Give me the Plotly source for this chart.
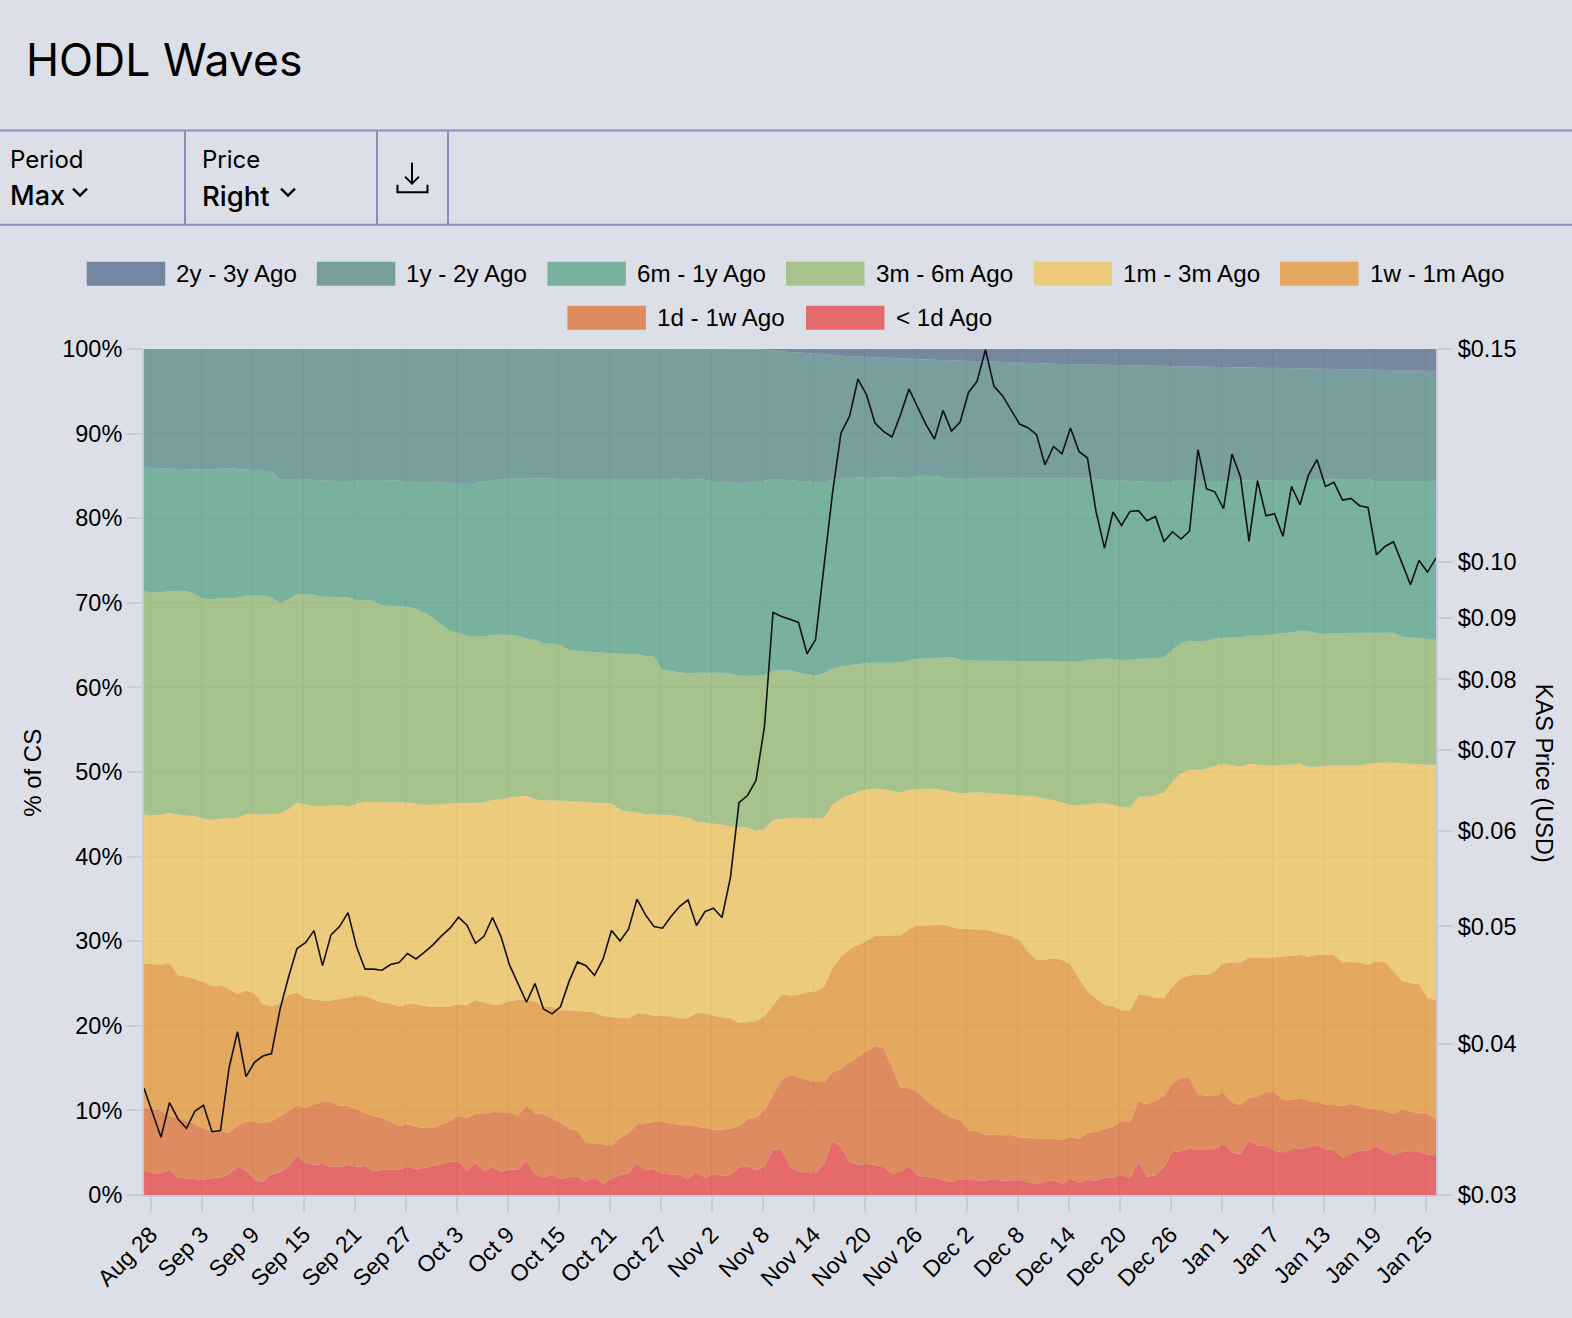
import pandas as pd
import plotly.graph_objects as go

# Plot frame in page pixels (layout only)
L, R, T, B = 144, 1436, 349.3, 1195
W, H = 1572, 1318
BG = (220, 223, 232)
ALPHA = 0.9

tick_labels = ["Aug 28","Sep 3","Sep 9","Sep 15","Sep 21","Sep 27","Oct 3","Oct 9","Oct 15","Oct 21","Oct 27",
               "Nov 2","Nov 8","Nov 14","Nov 20","Nov 26","Dec 2","Dec 8","Dec 14","Dec 20","Dec 26",
               "Jan 1","Jan 7","Jan 13","Jan 19","Jan 25"]
price_ticks = [0.03,0.04,0.05,0.06,0.07,0.08,0.09,0.10,0.15]

# Upper edge of each band, % of circulating supply, one value per day
top_lt1d = [2.84,2.56,2.56,3.00,2.05,1.97,1.85,1.81,2.01,2.09,2.48,3.35,2.96,1.77,1.58,2.48,2.68,3.35,4.73,3.74,
 3.59,3.67,3.31,3.35,3.55,3.35,3.43,2.80,2.96,3.00,3.00,3.35,3.07,3.23,3.47,3.71,3.90,3.98,2.88,3.82,
 2.80,3.27,2.76,3.00,3.00,3.98,2.44,2.09,2.37,1.89,2.13,2.13,
 1.58,2.05,1.30,1.89,2.37,2.52,3.78,2.92,3.11,2.52,2.48,2.37,1.89,2.68,2.05,2.48,2.29,2.37,
 3.27,3.39,2.92,3.35,5.36,5.40,3.35,2.80,2.60,2.56,3.67,6.35,5.68,3.94,3.55,3.67,3.59,3.35,2.44,2.80,
 3.43,2.29,2.17,2.01,1.73,1.54,1.85,1.77,1.69,1.69,1.89,1.69,
 1.73,1.73,1.54,1.30,1.62,1.73,1.30,1.97,1.42,1.81,1.66,2.01,2.09,2.37,2.01,3.94,2.17,2.33,3.27,5.08,
 5.20,5.48,5.36,5.36,5.44,6.03,5.01,4.85,6.42,5.83,5.79,5.24,5.01,5.44,5.48,5.64,5.91,5.40,5.36,4.38,
 4.93,5.20,5.32,5.72,5.08,4.73,5.08,5.20,5.12,4.77,4.81]
top_1d1w = [10.37,10.13,9.93,9.38,9.07,8.79,8.36,7.80,7.61,7.53,7.37,8.20,8.67,8.63,8.55,8.71,9.26,9.89,10.56,10.29,
 10.72,11.00,11.04,10.56,10.52,10.05,9.66,9.34,9.07,8.67,8.16,8.36,8.08,7.92,7.96,8.32,8.75,9.38,9.03,9.66,
 9.58,9.81,9.81,9.74,9.38,10.56,9.66,9.54,9.07,8.55,7.88,7.57,
 6.19,6.11,5.99,5.83,6.74,7.29,8.32,8.47,8.63,8.63,8.47,8.28,8.24,8.12,7.92,7.69,7.80,7.84,
 8.12,8.95,9.14,10.01,11.82,13.60,14.15,13.87,13.56,13.36,13.36,14.51,14.90,15.65,16.28,16.95,17.62,17.38,15.10,12.73,
 12.61,12.22,11.23,10.45,9.66,9.14,8.87,7.65,7.57,7.13,7.17,7.06,
 7.10,6.82,6.74,6.66,6.62,6.66,6.50,6.86,6.66,7.33,7.49,7.84,8.08,8.79,8.59,11.04,10.76,11.15,11.67,13.17,
 13.84,13.87,11.86,11.75,11.71,12.10,10.96,10.64,11.47,11.63,12.18,12.14,11.23,11.27,11.47,11.08,11.08,10.64,10.64,10.52,
 10.76,10.48,10.29,10.09,9.89,9.62,10.01,9.85,9.74,9.58,8.99]
top_1w1m = [27.32,27.24,27.24,27.36,25.98,25.82,25.54,25.14,24.71,24.79,24.36,23.77,24.16,23.81,22.51,22.35,22.66,23.65,23.93,23.22,
 23.06,22.98,22.98,23.18,23.37,23.53,23.53,23.18,22.74,22.63,22.27,22.55,22.59,22.35,22.23,22.23,22.27,22.55,22.47,23.06,
 22.74,22.47,22.51,22.90,23.06,23.06,22.86,22.27,22.19,21.84,21.84,21.80,
 21.68,21.60,21.17,21.05,20.93,20.89,21.40,21.40,21.21,21.17,21.09,20.89,20.89,21.52,21.48,21.17,21.01,20.89,
 20.30,20.42,20.58,21.09,22.39,23.69,23.57,23.65,23.97,24.04,24.64,26.76,28.18,29.05,29.56,29.96,30.63,30.67,30.67,30.71,
 31.41,31.85,31.85,31.89,31.93,31.69,31.45,31.45,31.41,31.34,31.14,30.78,
 30.63,30.07,28.77,27.75,27.79,27.99,27.79,27.28,25.62,24.04,23.26,22.47,22.35,21.84,21.80,23.69,23.57,23.33,23.30,24.64,
 25.62,25.98,26.01,26.01,26.49,27.36,27.51,27.47,28.06,28.10,27.99,28.10,28.22,28.26,28.38,28.14,28.42,28.38,28.38,27.51,
 27.55,27.47,27.20,27.63,27.51,26.45,25.31,25.07,24.95,23.30,23.02]
top_1m3m = [44.94,44.86,44.94,45.17,44.94,44.86,44.78,44.50,44.34,44.46,44.50,44.58,45.05,45.05,44.94,44.97,45.09,45.61,46.39,46.16,
 45.96,45.96,46.00,46.12,45.92,46.27,46.47,46.47,46.47,46.47,46.47,46.39,46.24,46.12,46.16,46.24,46.31,46.35,46.35,46.35,
 46.39,46.71,46.75,47.02,47.10,47.18,46.79,46.63,46.67,46.59,46.59,46.51,46.47,46.35,46.35,46.35,45.53,45.33,45.25,
 45.01,44.97,44.94,44.90,44.78,44.62,44.11,44.03,43.95,43.79,43.56,43.52,43.48,43.04,43.28,44.34,44.50,44.58,44.58,44.58,
 44.50,44.62,46.12,46.83,47.30,47.69,47.97,48.05,47.97,47.77,47.58,47.89,47.97,48.01,48.01,47.81,47.69,47.50,47.54,47.62,
 47.54,47.46,47.38,47.22,47.22,47.18,47.10,46.80,46.70,46.40,46.10,46.10,46.20,46.30,46.30,46.10,45.90,45.80,
 47.06,47.10,47.22,47.62,48.88,49.86,50.26,50.26,50.41,50.73,50.97,50.81,50.65,50.97,50.89,50.77,50.81,50.81,50.89,51.04,
 50.57,50.61,50.73,50.81,50.73,50.73,50.81,50.97,51.08,51.12,51.08,51.01,50.97,50.93,50.85,50.85]
top_3m6m = [71.38,71.19,71.27,71.38,71.42,71.38,71.07,70.48,70.40,70.60,70.52,70.60,70.87,70.87,70.83,70.63,70.00,70.40,71.07,70.99,
 70.95,70.71,70.71,70.71,70.67,70.32,70.24,70.24,69.69,69.65,69.65,69.53,69.26,68.83,68.19,67.40,66.69,66.46,66.10,65.98,
 66.02,66.22,66.22,66.22,66.10,65.79,65.63,65.19,65.16,65.00,64.45,64.29,64.25,64.21,64.17,64.05,63.97,63.97,63.93,
 63.70,63.66,62.08,61.92,61.81,61.65,61.73,61.73,61.73,61.73,61.61,61.37,61.37,61.37,61.49,61.92,62.08,62.00,61.77,61.57,
 61.37,61.69,62.24,62.47,62.63,62.79,62.87,62.91,62.91,62.95,62.95,63.19,63.38,63.42,63.50,63.54,63.58,63.27,63.19,63.15,
 63.15,63.15,63.15,63.11,63.11,63.11,63.07,63.11,63.11,63.07,63.03,63.03,63.26,63.34,63.38,63.38,63.23,63.26,63.38,63.38,
 63.46,63.54,64.45,65.27,65.51,65.43,65.51,65.79,65.87,65.90,65.94,66.10,66.10,66.14,66.30,66.38,66.49,66.69,66.69,66.38,
 66.34,66.42,66.42,66.42,66.46,66.46,66.46,66.46,66.46,65.98,65.94,65.83,65.67,65.63]
top_6m1y = [85.97,85.97,85.93,85.85,85.85,85.81,85.81,85.77,85.73,85.93,85.89,85.85,85.73,85.69,85.61,85.57,
 84.55,84.55,84.67,84.55,84.51,84.47,84.39,84.39,84.39,84.47,84.51,84.51,84.51,84.51,84.47,
 84.31,84.27,84.27,84.27,84.23,84.19,84.16,84.16,84.16,
 84.35,84.47,84.55,84.71,84.74,84.71,84.67,84.63,84.63,84.63,84.63,84.63,84.63,84.63,84.63,84.63,84.55,84.55,84.55,
 84.55,84.55,84.59,84.63,84.67,84.63,84.63,84.55,84.27,84.23,84.19,84.16,84.23,84.27,84.43,84.63,84.55,84.43,84.39,84.39,84.19,84.19,
 84.55,84.67,84.74,84.82,84.86,84.86,84.82,84.78,84.74,84.74,85.02,85.02,84.98,84.74,84.74,84.74,84.74,84.74,84.74,84.74,84.74,84.74,84.74,84.74,
 84.74,84.74,84.74,84.74,84.74,84.71,84.71,84.63,84.51,84.51,84.47,84.39,84.39,
 84.35,84.27,84.19,84.31,84.51,84.43,84.35,84.31,84.27,84.31,84.43,84.47,84.47,84.47,84.47,84.47,84.47,84.51,84.55,84.55,84.55,84.55,
 84.59,84.59,84.63,84.63,84.63,84.31,84.31,84.31,84.31,84.31,84.31,84.31,84.31]
top_1y2y = [100.0]*72 + [99.98,99.9,99.8,99.7,99.65,99.6,99.5,99.42,99.35,99.28,99.2,99.15,99.08,99.05,99.0,98.96,98.92,98.88,98.85,98.8,
 98.77,98.74,98.7,98.66,98.62,98.58,98.54,98.5,98.46,98.42,98.4,98.38,98.35,98.32,98.28,98.26,98.24,98.22,98.2,98.17,
 98.14,98.12,98.1,98.08,98.06,98.04,98.02,98.0,97.98,97.97,97.95,97.94,97.92,97.91,97.9,97.88,97.87,97.85,97.84,97.82,
 97.8,97.76,97.72,97.7,97.68,97.65,97.63,97.6,97.58,97.56,97.54,97.52,97.5,97.49,97.48,97.46,97.45,97.44,97.42,97.41,97.4]
top_2y3y = [100.0]*153

price = [.03675,.03509,.03348,.03576,.03467,.03406,.03520,.03558,.03384,.03391,.03818,.04094,.03758,.03862,.03908,.03926,
 .04271,.04539,.04794,.04849,.04961,.04641,.04921,.04999,.05134,.04812,.04610,.04610,.04601,.04651,.04668,.04749,
 .04701,.04761,.04828,.04911,.04984,.05089,.05012,.04843,.04908,.05086,.04905,.04648,.04488,.04329,.04485,.04274,
 .04234,.04291,.04502,.04674,.04641,.04557,.04698,.04961,.04865,.04974,.05267,.05111,.04999,.04984,.05095,.05193,
 .05260,.05009,.05144,.05177,.05086,.05492,.06329,
 .06415,.06601,.07315,.09088,.09019,.08972,.08917,.08400,.08626,.09918,.11404,.12785,.13195,.14167,.13751,.13030,
 .12824,.12688,.13237,.13901,.13448,.12988,.12640,.13346,.12833,.13045,.13811,.14103,.14980,.13970,.13725,.13364,
 .13005,.12914,.12743,.12036,.12462,.12290,.12907,
 .12344,.12190,.11013,.10271,.11000,.10723,.11013,.11028,.10820,.10908,.10402,.10595,.10449,.10609,.12385,.11499,
 .11426,.11069,.12283,.11758,.10402,.11675,.10922,.10964,.10502,.11549,.11154,.11808,.12151,.11549,.11638,.11254,
 .11289,.11133,.11097,.10141,.10303,.10396,.09982,.09579,.10032,.09813,.10078]

for arr in (top_lt1d, top_1d1w, top_1w1m, top_1m3m, top_3m6m, top_6m1y, top_1y2y, top_2y3y, price):
    assert len(arr) == 153, len(arr)

dates = pd.date_range("2023-08-27 05:00", periods=153, freq="D")
tick_dates = pd.date_range("2023-08-28", periods=len(tick_labels), freq="6D")

# (legend name, upper edge, colour as seen)
bands = [("< 1d Ago", top_lt1d, (228,107,107)),
         ("1d - 1w Ago", top_1d1w, (223,139,96)),
         ("1w - 1m Ago", top_1w1m, (229,168,95)),
         ("1m - 3m Ago", top_1m3m, (236,203,125)),
         ("3m - 6m Ago", top_3m6m, (166,195,141)),
         ("6m - 1y Ago", top_6m1y, (120,177,158)),
         ("1y - 2y Ago", top_1y2y, (120,158,158)),
         ("2y - 3y Ago", top_2y3y, (117,135,160))]

def fill(c):
    r = [max(0, min(255, round((c[k] - (1 - ALPHA) * BG[k]) / ALPHA))) for k in range(3)]
    return f"rgba({r[0]},{r[1]},{r[2]},{ALPHA})"
def solid(c):
    return f"rgb({c[0]},{c[1]},{c[2]})"
def px(x): return (x - L) / (R - L)
def py(y): return (B - y) / (B - T)

fig = go.Figure()
for i, (name, vals, col) in enumerate(bands):
    fig.add_trace(go.Scatter(x=dates, y=vals, name=name, mode="lines", line=dict(width=0),
                             fill="tozeroy" if i == 0 else "tonexty", fillcolor=fill(col), hoverinfo="skip"))
fig.add_trace(go.Scatter(x=dates, y=price, name="KAS Price", mode="lines", yaxis="y2",
                         line=dict(color="#111111", width=1.6), hoverinfo="skip"))

AX = "Liberation Sans"
UI = "Inter"
AXLINE = "#c9ccd8"
RULE = "#8490b4"
GRID = "#949494"
anns, shapes = [], []

def text(x, y, s, size, font=AX, color="black", angle=0, xa="left", weight=None):
    f = dict(family=font, size=size, color=color)
    if weight: f["weight"] = weight
    anns.append(dict(xref="paper", yref="paper", x=px(x), y=py(y), text=s, showarrow=False, font=f,
                     textangle=angle, xanchor=xa, yanchor="middle", borderpad=0, borderwidth=0))
def rule(x0, y0, x1, y1, color=RULE, w=2):
    shapes.append(dict(type="line", xref="paper", yref="paper", x0=px(x0), y0=py(y0), x1=px(x1), y1=py(y1),
                       line=dict(color=color, width=w), layer="above"))
def poly(pts, w=2):
    d = "M " + " L ".join(f"{px(a):.5f} {py(b):.5f}" for a, b in pts)
    shapes.append(dict(type="path", xref="paper", yref="paper", path=d, line=dict(color="black", width=w), layer="above"))

# Header
text(26, 60, "HODL Waves", 44.5, UI)
rule(0, 131, W, 131); rule(0, 225, W, 225)
for vx in (185, 377, 448):
    rule(vx, 131, vx, 225)
text(10, 160, "Period", 24, UI); text(10, 196, "Max", 27, UI, weight=500)
text(202, 160, "Price", 24, UI); text(202, 196, "Right", 27.5, UI, weight=500)
poly([(73, 189), (80, 196), (87, 189)], w=2.4)
poly([(281, 189), (288, 196), (295, 189)], w=2.4)
poly([(412, 163), (412, 184)]); poly([(405, 177), (412, 184), (419, 177)])
poly([(397.5, 185), (397.5, 192.5), (427.5, 192.5), (427.5, 185)])

# Legend
legend_pos = [("2y - 3y Ago", 86.7, 274), ("1y - 2y Ago", 316.8, 274), ("6m - 1y Ago", 547.4, 274),
              ("3m - 6m Ago", 786, 274), ("1m - 3m Ago", 1033.6, 274), ("1w - 1m Ago", 1280, 274),
              ("1d - 1w Ago", 567.4, 318), ("< 1d Ago", 806, 318)]
colmap = {n: c for n, _, c in bands}
for n, lx, ly in legend_pos:
    shapes.append(dict(type="rect", xref="paper", yref="paper", x0=px(lx), x1=px(lx + 78.5), y0=py(ly - 12), y1=py(ly + 12),
                       fillcolor=solid(colmap[n]), line=dict(width=0), layer="above"))
    text(lx + 89.5, ly, n, 24.2)

text(33, 773, "% of CS", 24, angle=-90, xa="center")
text(1544, 773, "KAS Price (USD)", 23.5, angle=90, xa="center")

fig.update_layout(
    width=W, height=H, margin=dict(l=L, r=W - R, t=T, b=H - B, pad=0),
    paper_bgcolor=solid(BG), plot_bgcolor=solid(BG), showlegend=False, hovermode=False,
    font=dict(family=AX, size=24, color="black"),
    annotations=anns, shapes=shapes,
    xaxis=dict(type="date", range=[dates[0], dates[-1]], tickmode="array", tickvals=list(tick_dates), ticktext=tick_labels,
               tickangle=-45, ticks="outside", ticklen=15, tickwidth=2, tickcolor=AXLINE,
               showgrid=True, gridcolor=GRID, gridwidth=1, showline=True, linecolor=AXLINE, linewidth=2,
               tickfont=dict(family=AX, size=23), zeroline=False),
    yaxis=dict(range=[0, 100], tickmode="array", tickvals=list(range(0, 101, 10)),
               ticktext=[f"{v}%" for v in range(0, 101, 10)], ticks="outside", ticklen=15, tickwidth=2, tickcolor=AXLINE,
               showgrid=True, gridcolor=GRID, gridwidth=1, showline=True, linecolor=AXLINE, linewidth=2,
               tickfont=dict(family=AX, size=23.5), zeroline=False),
    yaxis2=dict(type="log", range=[-1.52288, -0.82391], overlaying="y", side="right", tickmode="array",
                tickvals=price_ticks, ticktext=[f"${v:.2f}" for v in price_ticks], ticks="outside", ticklen=15, tickwidth=2,
                tickcolor=AXLINE, showgrid=False, showline=True, linecolor=AXLINE, linewidth=2,
                tickfont=dict(family=AX, size=23.5), zeroline=False),
)

fig.write_html("out.html", config=dict(displayModeBar=False),
               post_script="document.body.style.margin='0';document.body.style.overflow='hidden';"
                           "document.body.style.background='rgb(220,223,232)';")
